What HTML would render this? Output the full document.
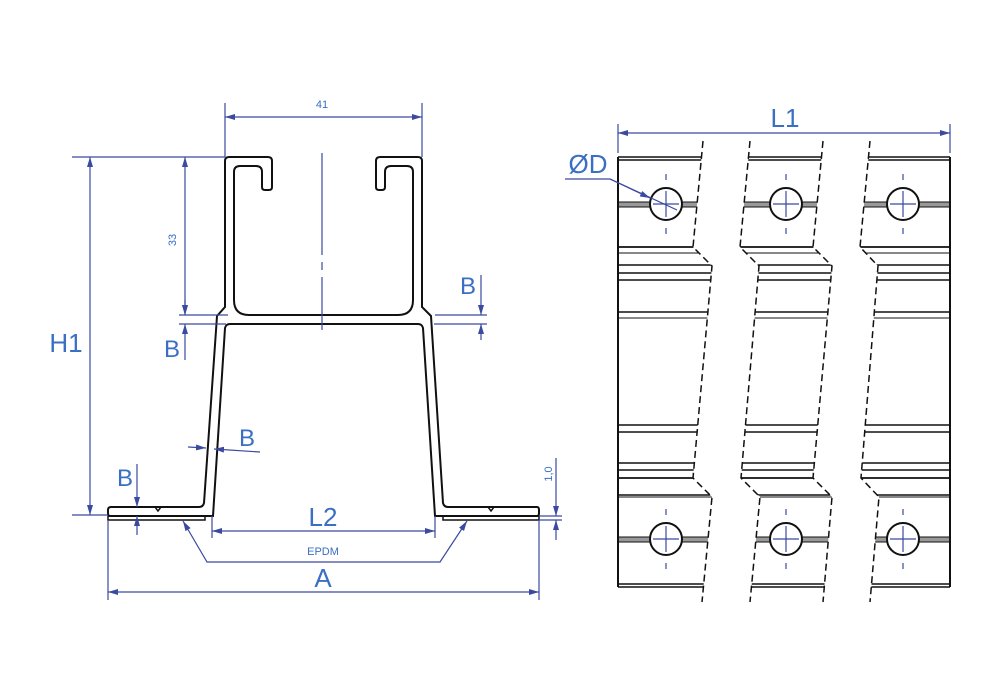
<!DOCTYPE html>
<html><head><meta charset="utf-8"><style>
html,body{margin:0;padding:0;background:#fff;}
svg{display:block;}
.t{font-family:"Liberation Sans",sans-serif;fill:#3a6fc4;}
.d{stroke:#3a4aa0;stroke-width:1.2;fill:none;}
.k{stroke:#111;fill:none;}
.ds{stroke:#111;stroke-width:1.5;fill:none;stroke-dasharray:7 4;}
</style></head><body>
<svg width="1000" height="700" viewBox="0 0 1000 700" xmlns="http://www.w3.org/2000/svg">
<defs>
<marker id="a" viewBox="0 0 10 6" refX="10" refY="3" markerWidth="10" markerHeight="6" orient="auto-start-reverse" markerUnits="userSpaceOnUse"><path d="M0,0 L10,3 L0,6 Z" fill="#3a4aa0"/></marker>
</defs>
<rect width="1000" height="700" fill="#fff"/>

<!-- LEFT PROFILE -->
<path class="k" stroke-width="2" d="M229,157 L268,157 Q272,157 272,161 L272,187 Q272,190 269,190 L265,190 Q262,190 262,187 L262,172 Q262,166 256,166 L240,166 Q234,166 234,172 L234,300 Q234,315 249,315 L398,315 Q413,315 413,300 L413,172 Q413,166 407,166 L391,166 Q385,166 385,172 L385,187 Q385,190 382,190 L379,190 Q376,190 376,187 L376,161 Q376,157 380,157 L418,157 Q422,157 422,161 L422,307 L431,316 L443,503 Q444,507 448,507 L537,507 Q539,507 539,510 L539,513 Q539,516 537,516 L435,516 L423,328 Q422,324 418,324 L230,324 Q226,324 225,328 L213,516 L110,516 Q108,516 108,513 L108,510 Q108,507 111,507 L199,507 Q203,507 204,503 L217,316 L225,307 L225,161 Q225,157 229,157 Z"/>
<rect x="108" y="516" width="97" height="4" class="k" stroke-width="1.5" fill="#ddd"/>
<rect x="443" y="516" width="96" height="4" class="k" stroke-width="1.5" fill="#ddd"/>
<path class="k" stroke-width="1.5" d="M155,507 L158,511 L161,507 M488,507 L491,511 L494,507"/>
<!-- center line -->
<path class="d" d="M322,153 L322,255 M322,262 L322,270 M322,277 L322,330"/>

<!-- dims -->
<path class="d" d="M225,103 L225,157 M422,103 L422,157"/>
<line class="d" x1="225" y1="117" x2="422" y2="117" marker-start="url(#a)" marker-end="url(#a)"/>
<text class="t" x="322" y="108" font-size="11" text-anchor="middle">41</text>

<path class="d" d="M72,157 L225,157 M72,515 L108,515"/>
<line class="d" x1="90" y1="157" x2="90" y2="515" marker-start="url(#a)" marker-end="url(#a)"/>
<text class="t" x="66" y="352" font-size="26" text-anchor="middle">H1</text>

<line class="d" x1="185" y1="157" x2="185" y2="315" marker-start="url(#a)" marker-end="url(#a)"/>
<text class="t" font-size="11" text-anchor="middle" transform="translate(176,240) rotate(-90)">33</text>

<path class="d" d="M179,315 L228,315 M179,324 L226,324 M435,315 L487,315 M434,324 L487,324"/>
<line class="d" x1="481" y1="275" x2="481" y2="315" marker-end="url(#a)"/>
<line class="d" x1="481" y1="340" x2="481" y2="324" marker-end="url(#a)"/>
<text class="t" x="468" y="294" font-size="24" text-anchor="middle">B</text>
<line class="d" x1="185" y1="300" x2="185" y2="315" marker-end="url(#a)"/>
<line class="d" x1="185" y1="360" x2="185" y2="324" marker-end="url(#a)"/>
<text class="t" x="172" y="357" font-size="24" text-anchor="middle">B</text>

<line class="d" x1="188" y1="447" x2="206" y2="448" marker-end="url(#a)"/>
<line class="d" x1="260" y1="452" x2="214" y2="449" marker-end="url(#a)"/>
<text class="t" x="247" y="446" font-size="24" text-anchor="middle">B</text>

<line class="d" x1="137" y1="464" x2="137" y2="507" marker-end="url(#a)"/>
<line class="d" x1="137" y1="535" x2="137" y2="516" marker-end="url(#a)"/>
<text class="t" x="125" y="486" font-size="24" text-anchor="middle">B</text>

<path class="d" d="M539,516 L562,516 M539,520 L562,520"/>
<line class="d" x1="556" y1="458" x2="556" y2="516" marker-end="url(#a)"/>
<line class="d" x1="556" y1="540" x2="556" y2="520" marker-end="url(#a)"/>
<text class="t" font-size="11" text-anchor="middle" transform="translate(552,474) rotate(-90)">1,0</text>

<path class="d" d="M212,516 L212,538 M435,516 L435,538"/>
<line class="d" x1="212" y1="531" x2="435" y2="531" marker-start="url(#a)" marker-end="url(#a)"/>
<text class="t" x="323" y="526" font-size="26" text-anchor="middle">L2</text>

<path class="d" d="M183,521 L207,562 L440,562 L467,521" marker-start="url(#a)" marker-end="url(#a)"/>
<text class="t" x="323" y="555" font-size="11" text-anchor="middle">EPDM</text>

<path class="d" d="M108,520 L108,600 M539,520 L539,600"/>
<line class="d" x1="108" y1="592" x2="539" y2="592" marker-start="url(#a)" marker-end="url(#a)"/>
<text class="t" x="323" y="587" font-size="26" text-anchor="middle">A</text>

<!-- RIGHT VIEW -->
<g stroke="#111" fill="none">
<line x1="618" y1="157" x2="950" y2="157" stroke-width="1.5"/>
<line x1="618" y1="160" x2="950" y2="160" stroke-width="1.5"/>
<rect x="618" y="202" width="332" height="5" fill="#999" stroke-width="1"/>
<line x1="618" y1="247" x2="950" y2="247" stroke-width="1.8"/>
<line x1="618" y1="253" x2="950" y2="253" stroke-width="1"/>
<line x1="618" y1="265" x2="950" y2="265" stroke-width="1.5"/>
<line x1="618" y1="273" x2="950" y2="273" stroke-width="1.5"/>
<line x1="618" y1="280" x2="950" y2="280" stroke-width="1.5"/>
<line x1="618" y1="312" x2="950" y2="312" stroke-width="1.5"/>
<line x1="618" y1="318" x2="950" y2="318" stroke-width="1"/>
<line x1="618" y1="425" x2="950" y2="425" stroke-width="1.5"/>
<line x1="618" y1="432" x2="950" y2="432" stroke-width="1.5"/>
<line x1="618" y1="463" x2="950" y2="463" stroke-width="1.5"/>
<line x1="618" y1="470" x2="950" y2="470" stroke-width="1.5"/>
<line x1="618" y1="478" x2="950" y2="478" stroke-width="1.8"/>
<line x1="618" y1="495" x2="950" y2="495" stroke-width="1.5"/>
<line x1="618" y1="497" x2="950" y2="497" stroke-width="1"/>
<rect x="618" y="537" width="332" height="5" fill="#999" stroke-width="1"/>
<line x1="618" y1="584" x2="950" y2="584" stroke-width="1.5"/>
<line x1="618" y1="587" x2="950" y2="587" stroke-width="1.5"/>
</g>
<polygon fill="#fff" points="703,141 693,247 712,266 693,478 712,497 702,602 750,602 760,497 741,478 759,266 740,247 750,141"/>
<polygon fill="#fff" points="823,141 813,247 832,266 813,478 832,497 823,602 870,602 879,497 861,478 878,266 860,247 870,141"/>
<polyline class="ds" points="703,141 693,247 712,266 693,478 712,497 702,602"/>
<polyline class="ds" points="750,141 740,247 759,266 741,478 760,497 750,602"/>
<polyline class="ds" points="823,141 813,247 832,266 813,478 832,497 823,602"/>
<polyline class="ds" points="870,141 860,247 878,266 861,478 879,497 870,602"/>
<line x1="618" y1="157" x2="618" y2="587" stroke="#111" stroke-width="2"/>
<line x1="950" y1="157" x2="950" y2="587" stroke="#111" stroke-width="2"/>

<g>
<g id="h">
<circle cx="666" cy="204" r="16" fill="#fff" stroke="#111" stroke-width="2"/>
<path class="d" d="M653,204 L679,204 M666,191 L666,217 M666,174 L666,180 M666,228 L666,234"/>
</g>
<use href="#h" x="120" y="0"/><use href="#h" x="237" y="0"/>
<use href="#h" x="0" y="335"/><use href="#h" x="120" y="335"/><use href="#h" x="237" y="335"/>
</g>

<path class="d" d="M565,179 L610,179 L677,210"/>
<line class="d" x1="610" y1="179" x2="650" y2="198" marker-end="url(#a)"/>
<text class="t" x="588" y="173" font-size="26" text-anchor="middle">ØD</text>

<path class="d" d="M618,124 L618,153 M950,124 L950,153"/>
<line class="d" x1="618" y1="133" x2="950" y2="133" marker-start="url(#a)" marker-end="url(#a)"/>
<text class="t" x="785" y="127" font-size="26" text-anchor="middle">L1</text>
</svg>
</body></html>
